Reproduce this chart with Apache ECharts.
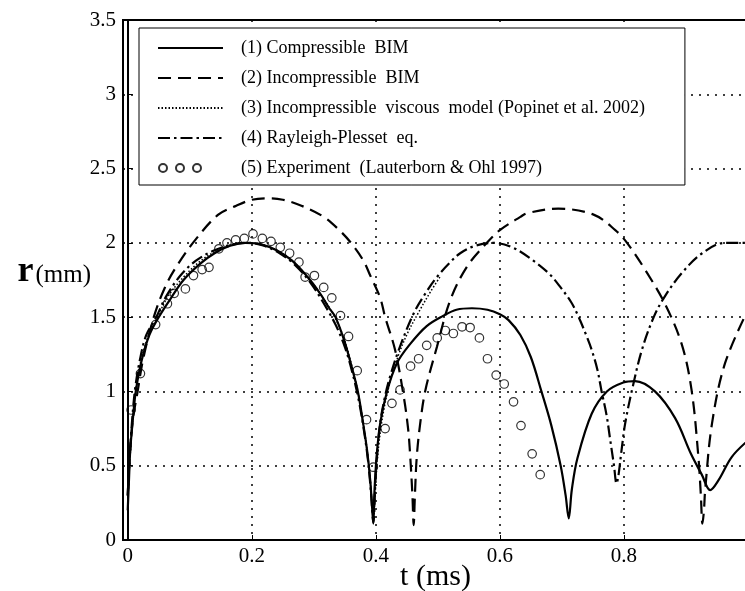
<!DOCTYPE html>
<html>
<head>
<meta charset="utf-8">
<script src="https://cdn.jsdelivr.net/npm/echarts@6/dist/echarts.min.js"></script>
<style>
html,body{margin:0;padding:0;background:#fff;}
#chart{width:745px;height:591px;}
</style>
</head>
<body>
<div id="chart"></div>
<script>
// ---------- data ----------
const seriesNames = [
  '(1) Compressible  BIM',
  '(2) Incompressible  BIM',
  '(3) Incompressible  viscous  model (Popinet et al. 2002)',
  '(4) Rayleigh-Plesset  eq.',
  '(5) Experiment  (Lauterborn & Ohl 1997)'
];
const xTicks = [0, 0.2, 0.4, 0.6, 0.8, 1.0];
const xLabels = [0, 0.2, 0.4, 0.6, 0.8];
const yTicks = [0, 0.5, 1, 1.5, 2, 2.5, 3, 3.5];

// (1) Compressible BIM
const s1T = [0, 0.002, 0.004, 0.008, 0.013, 0.022, 0.035, 0.05, 0.07, 0.09, 0.117, 0.14, 0.165, 0.19, 0.215, 0.24, 0.265, 0.29, 0.31, 0.325, 0.335, 0.35, 0.362, 0.371, 0.379, 0.386, 0.391, 0.394, 0.396, 0.3975, 0.401, 0.407, 0.418, 0.434, 0.4555, 0.482, 0.509, 0.53, 0.555, 0.58, 0.6, 0.614, 0.633, 0.65, 0.667, 0.683, 0.698, 0.706, 0.711, 0.716, 0.725, 0.748, 0.7725, 0.799, 0.818, 0.85, 0.8825, 0.908, 0.9255, 0.939, 0.952, 0.974, 1.0];
const s1R = [0.2, 0.4, 0.6, 0.8, 1.0, 1.2, 1.38, 1.5, 1.63, 1.75, 1.86, 1.93, 1.98, 2.0, 1.99, 1.95, 1.88, 1.77, 1.66, 1.56, 1.5, 1.33, 1.15, 1.0, 0.8, 0.6, 0.4, 0.22, 0.11, 0.3, 0.55, 0.785, 1.0, 1.19, 1.32, 1.44, 1.51, 1.55, 1.56, 1.55, 1.52, 1.48, 1.38, 1.23, 1.0, 0.77, 0.5, 0.3, 0.146, 0.34, 0.55, 0.85, 1.0, 1.06, 1.07, 1.0, 0.82, 0.58, 0.44, 0.336, 0.40, 0.56, 0.67];

// (2) Incompressible BIM
const s2T = [0, 0.003, 0.008, 0.016, 0.025, 0.042, 0.06, 0.08, 0.109, 0.146, 0.175, 0.2, 0.225, 0.25, 0.28, 0.316, 0.34, 0.36, 0.38, 0.391, 0.407, 0.415, 0.431, 0.445, 0.452, 0.4555, 0.459, 0.461, 0.463, 0.466, 0.472, 0.48, 0.4985, 0.52, 0.547, 0.579, 0.6, 0.633, 0.644, 0.694, 0.751, 0.786, 0.805, 0.834, 0.866, 0.893, 0.909, 0.92, 0.924, 0.9265, 0.929, 0.931, 0.942, 0.963, 1.0];
const s2R = [0.3, 0.55, 0.8, 1.0, 1.22, 1.5, 1.7, 1.85, 2.02, 2.19, 2.25, 2.29, 2.3, 2.29, 2.25, 2.175, 2.09, 2.0, 1.88, 1.78, 1.63, 1.5, 1.28, 0.965, 0.75, 0.56, 0.3, 0.1, 0.3, 0.56, 0.8, 1.01, 1.30, 1.615, 1.84, 2.0, 2.086, 2.175, 2.2, 2.23, 2.19, 2.086, 2.0, 1.82, 1.59, 1.32, 1.01, 0.56, 0.3, 0.11, 0.2, 0.34, 0.785, 1.19, 1.55];

// (3) Incompressible viscous model
const s3T = [0, 0.003, 0.007, 0.012, 0.02, 0.032, 0.048, 0.065, 0.09, 0.115, 0.14, 0.165, 0.19, 0.215, 0.24, 0.265, 0.29, 0.31, 0.335, 0.35, 0.362, 0.371, 0.379, 0.386, 0.391, 0.394, 0.396, 0.4, 0.405, 0.413, 0.424, 0.437, 0.452, 0.47, 0.488, 0.505];
const s3R = [0.25, 0.5, 0.75, 0.98, 1.18, 1.36, 1.5, 1.64, 1.77, 1.87, 1.94, 1.985, 2.0, 1.99, 1.95, 1.88, 1.77, 1.66, 1.49, 1.34, 1.16, 1.0, 0.8, 0.6, 0.4, 0.22, 0.13, 0.4, 0.65, 0.88, 1.08, 1.25, 1.4, 1.54, 1.67, 1.78];

// (4) Rayleigh-Plesset
const s4T = [0, 0.003, 0.007, 0.012, 0.02, 0.03, 0.046, 0.062, 0.085, 0.11, 0.14, 0.17, 0.195, 0.22, 0.245, 0.27, 0.295, 0.315, 0.335, 0.35, 0.362, 0.372, 0.38, 0.387, 0.392, 0.396, 0.4, 0.407, 0.415, 0.423, 0.437, 0.461, 0.48, 0.4985, 0.52, 0.536, 0.56, 0.59, 0.62, 0.654, 0.68, 0.697, 0.715, 0.727, 0.74, 0.748, 0.757, 0.764, 0.772, 0.778, 0.784, 0.788, 0.791, 0.796, 0.802, 0.813, 0.829, 0.848, 0.866, 0.893, 0.926, 0.963, 1.0];
const s4R = [0.3, 0.55, 0.8, 1.02, 1.22, 1.38, 1.5, 1.64, 1.78, 1.88, 1.95, 1.99, 2.0, 1.98, 1.93, 1.85, 1.73, 1.6, 1.45, 1.3, 1.13, 0.95, 0.76, 0.55, 0.33, 0.12, 0.45, 0.785, 0.97, 1.10, 1.28, 1.525, 1.66, 1.77, 1.87, 1.93, 1.98, 2.0, 1.97, 1.88, 1.79, 1.705, 1.6, 1.5, 1.37, 1.28, 1.15, 1.0, 0.84, 0.67, 0.5, 0.38, 0.43, 0.6, 0.785, 1.01, 1.28, 1.5, 1.64, 1.795, 1.93, 2.0, 2.0];

// (5) Experiment
const expT = [0.0055, 0.0205, 0.045, 0.064, 0.075, 0.093, 0.106, 0.12, 0.131, 0.147, 0.16, 0.174, 0.188, 0.202, 0.217, 0.231, 0.246, 0.261, 0.276, 0.286, 0.301, 0.316, 0.329, 0.343, 0.356, 0.37, 0.385, 0.396, 0.415, 0.426, 0.439, 0.456, 0.469, 0.482, 0.499, 0.512, 0.525, 0.539, 0.552, 0.567, 0.58, 0.594, 0.607, 0.622, 0.634, 0.652, 0.665];
const expR = [0.875, 1.12, 1.45, 1.59, 1.66, 1.69, 1.78, 1.82, 1.835, 1.96, 2.0, 2.02, 2.03, 2.06, 2.03, 2.01, 1.97, 1.93, 1.87, 1.77, 1.78, 1.70, 1.63, 1.51, 1.37, 1.14, 0.81, 0.49, 0.75, 0.92, 1.01, 1.17, 1.22, 1.31, 1.36, 1.41, 1.39, 1.435, 1.43, 1.36, 1.22, 1.11, 1.05, 0.93, 0.77, 0.58, 0.44];

// ---------- chart ----------
const zip = (a, b) => a.map((v, i) => [v, b[i]]);
const FONT = 'Liberation Serif';
const chart = echarts.init(document.getElementById('chart'), null, {renderer: 'canvas'});

const threeCircles = 'path://M0,0 L0,0 M1,5 A4,4 0 1,1 9,5 A4,4 0 1,1 1,5 Z M18,5 A4,4 0 1,1 26,5 A4,4 0 1,1 18,5 Z M35,5 A4,4 0 1,1 43,5 A4,4 0 1,1 35,5 Z M65,10 L65,10';
const hiddenDot = {opacity: 0, color: 'transparent', borderWidth: 0};

const lineBase = {type: 'line', symbol: 'none', smooth: 0.35, z: 3};

const option = {
  backgroundColor: '#fff',
  animation: false,
  grid: {left: 123, right: -3, top: 20, bottom: 51, show: true, borderColor: '#000', borderWidth: 2,
    backgroundColor: 'transparent', containLabel: false, outerBoundsMode: 'none'},
  legend: {
    orient: 'vertical', left: 139, top: 28,
    padding: [11, 40, 8, 18],
    itemWidth: 65, itemHeight: 10, itemGap: 12,
    backgroundColor: '#fff', borderColor: '#000', borderWidth: 1, borderRadius: 0,
    selectedMode: false,
    textStyle: {fontFamily: FONT, fontSize: 18, color: '#000', rich: {s: {width: 13}}},
    formatter: n => '{s|}' + n,
    data: [
      {name: seriesNames[0], itemStyle: hiddenDot},
      {name: seriesNames[1], itemStyle: hiddenDot},
      {name: seriesNames[2], itemStyle: hiddenDot},
      {name: seriesNames[3], itemStyle: hiddenDot},
      {name: seriesNames[4], icon: threeCircles}
    ]
  },
  xAxis: {
    type: 'value', min: -0.0076, max: 1.0,
    name: 't (ms)', nameLocation: 'middle', nameGap: 22, nameMoveOverlap: false,
    nameTextStyle: {fontFamily: FONT, fontSize: 30, color: '#000'},
    axisLine: {show: true, lineStyle: {color: '#000', width: 2}},
    axisTick: {show: true, inside: true, length: 5, customValues: xTicks, lineStyle: {color: '#000'}},
    axisLabel: {customValues: xLabels, fontFamily: FONT, fontSize: 21, color: '#000', margin: 6,
      formatter: v => String(Math.round(v * 10) / 10)},
    splitLine: {show: true, lineStyle: {color: '#000', width: 1.5, type: [2, 6]}}
  },
  yAxis: {
    type: 'value', min: 0, max: 3.5, interval: 0.5,
    name: '{r|r}{u|(mm)}', nameLocation: 'middle', nameRotate: 0, nameGap: 32, nameMoveOverlap: false,
    nameTextStyle: {padding: [0, 0, 16, 0], rich: {
      r: {fontFamily: FONT, fontSize: 36, fontWeight: 'bold', color: '#000', padding: [0, 2, 0, 0]},
      u: {fontFamily: FONT, fontSize: 25, color: '#000', padding: [6, 0, 0, 0]}
    }},
    axisLine: {show: true, lineStyle: {color: '#000', width: 2}},
    axisTick: {show: true, inside: true, length: 5, lineStyle: {color: '#000'}},
    axisLabel: {fontFamily: FONT, fontSize: 21, color: '#000', margin: 7},
    splitLine: {show: true, lineStyle: {color: '#000', width: 1.5, type: [2, 6]}}
  },
  series: [
    Object.assign({}, lineBase, {name: seriesNames[0], data: zip(s1T, s1R), lineStyle: {color: '#000', width: 2.2, type: 'solid'}, itemStyle: {color: '#000'}}),
    Object.assign({}, lineBase, {name: seriesNames[1], data: zip(s2T, s2R), lineStyle: {color: '#000', width: 2.2, type: [13, 7]}, itemStyle: {color: '#000'}}),
    Object.assign({}, lineBase, {name: seriesNames[2], data: zip(s3T, s3R), lineStyle: {color: '#000', width: 1.5, type: [1.5, 2]}, itemStyle: {color: '#000'}}),
    Object.assign({}, lineBase, {name: seriesNames[3], data: zip(s4T, s4R), lineStyle: {color: '#000', width: 2.2, type: [12, 4, 2.5, 4]}, itemStyle: {color: '#000'}}),
    {type: 'scatter', name: seriesNames[4], data: zip(expT, expR), symbol: 'circle', symbolSize: 8.5, z: 4,
      itemStyle: {color: 'transparent', borderColor: '#000', borderWidth: 1.2}}
  ]
};
chart.setOption(option);
</script>
</body>
</html>
